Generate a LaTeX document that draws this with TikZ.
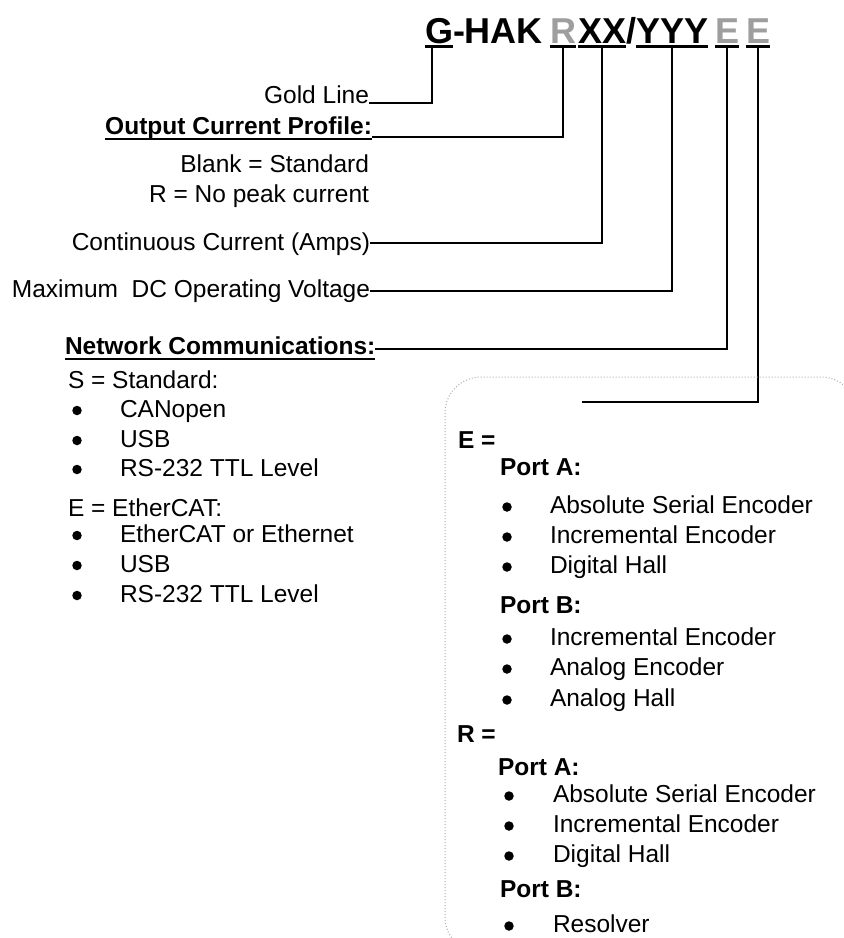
\documentclass[tikz,border=0pt]{standalone}
\usepackage{fontspec}
\setmainfont{Liberation Sans}
\definecolor{lgray}{RGB}{158,158,158}
\definecolor{boxgray}{RGB}{170,170,170}
\begin{document}
\begin{tikzpicture}[x=1pt,y=-1pt,
  every node/.style={inner sep=0pt, outer sep=0pt, font=\fontsize{24.5}{29}\selectfont},
  lbl/.style={anchor=base east},
  txt/.style={anchor=base west},
  bold/.style={font=\fontsize{24.5}{29}\selectfont\bfseries},
  ttl/.style={anchor=base west, font=\fontsize{36}{40}\selectfont\bfseries},
  dot/.style={circle, fill=black, minimum size=9.5pt},
  conn/.style={line width=2pt},
  uline/.style={line width=2.5pt},
  boxdot/.style={draw=boxgray, line width=1pt, dash pattern=on 1pt off 2pt, rounded corners=36pt}
]
\useasboundingbox (0,0) rectangle (844,938);
\clip (0,0) rectangle (844,938);

% title
\node[ttl] (G) at (425,43) {G};
\node[ttl] (HAK) at (G.base east) {-HAK};
\node[ttl, text=lgray] (R) at (550,43) {R};
\node[ttl] (XX) at (578,43) {XX};
\node[ttl] (sl) at (XX.base east) {/};
\node[ttl] (YYY) at (sl.base east) {YYY};
\node[ttl, text=lgray] (E1) at (715,43) {E};
\node[ttl, text=lgray] (E2) at (746,43) {E};
\foreach \n in {G,R,XX,YYY,E1,E2}
  \draw[uline] ([yshift=-3.5pt]\n.base west) -- ([yshift=-3.5pt]\n.base east);
\coordinate (tG) at (432,47.5);

% left labels
\node[lbl] (gold) at (369,103) {Gold Line};
\node[lbl, bold] (ocp) at (372,134) {Output Current Profile:};
\node[lbl] (blank) at (369,172) {Blank = Standard};
\node[lbl] (rno) at (369,202) {R = No peak current};
\node[lbl] (cont) at (370,250) {Continuous Current (Amps)};
\node[lbl] (maxv) at (370,297) {Maximum\ \ DC Operating Voltage};
\node[txt, bold] (net) at (65,354) {Network Communications:};
\draw[line width=2pt] ([yshift=-5pt]ocp.base west) -- ([yshift=-5pt]ocp.base east);
\draw[line width=2pt] ([yshift=-5pt]net.base west) -- ([yshift=-5pt]net.base east);

% connectors
\draw[conn] (gold.base east) -| (tG);
\draw[conn] ([yshift=-3pt]ocp.base east) -| ([yshift=-4.5pt]R.base);
\draw[conn] ([yshift=7pt]cont.base east) -| ([yshift=-4.5pt]XX.base);
\draw[conn] ([yshift=6pt]maxv.base east) -| ([yshift=-4.5pt]YYY.base);
\draw[conn] ([yshift=5pt]net.base east) -| ([yshift=-4.5pt]E1.base);
\coordinate (eend) at (582,402);
\draw[conn] ([yshift=-4.5pt]E2.base) |- (eend);

% network list
\node[txt] (ss) at (68,388) {S = Standard:};
\foreach \y/\t/\n in {417/CANopen/sa, 447/USB/sb, 476/RS-232 TTL Level/sc,
                      542/EtherCAT or Ethernet/ea, 572/USB/eb, 602/RS-232 TTL Level/ec} {
  \node[dot] (b\n) at (77,\y-6.5) {};
  \node[txt] (\n) at (120,\y) {\t};
}
\node[txt] (ee) at (68,516) {E = EtherCAT:};

% right box
\draw[boxdot] (445,377) rectangle (857,953);
\node[txt, bold] (Eeq) at (458,448) {E =};
\node[txt, bold] (pa1) at (500,475) {Port A:};
\node[txt, bold] (pb1) at (500,613) {Port B:};
\node[txt, bold] (Req) at (457,742) {R =};
\node[txt, bold] (pa2) at (498,775) {Port A:};
\node[txt, bold] (pb2) at (500,897) {Port B:};
\foreach \y/\t/\n in {513/Absolute Serial Encoder/ra, 543/Incremental Encoder/rb, 573/Digital Hall/rc,
                      645/Incremental Encoder/rd, 675/Analog Encoder/re, 706/Analog Hall/rf} {
  \node[dot] (b\n) at (507,\y-6) {};
  \node[txt] (\n) at (550,\y) {\t};
}
\foreach \y/\t/\n in {802/Absolute Serial Encoder/qa, 832/Incremental Encoder/qb, 862/Digital Hall/qc,
                      932/Resolver/qd} {
  \node[dot] (b\n) at (509,\y-6) {};
  \node[txt] (\n) at (553,\y) {\t};
}
\end{tikzpicture}
\end{document}
